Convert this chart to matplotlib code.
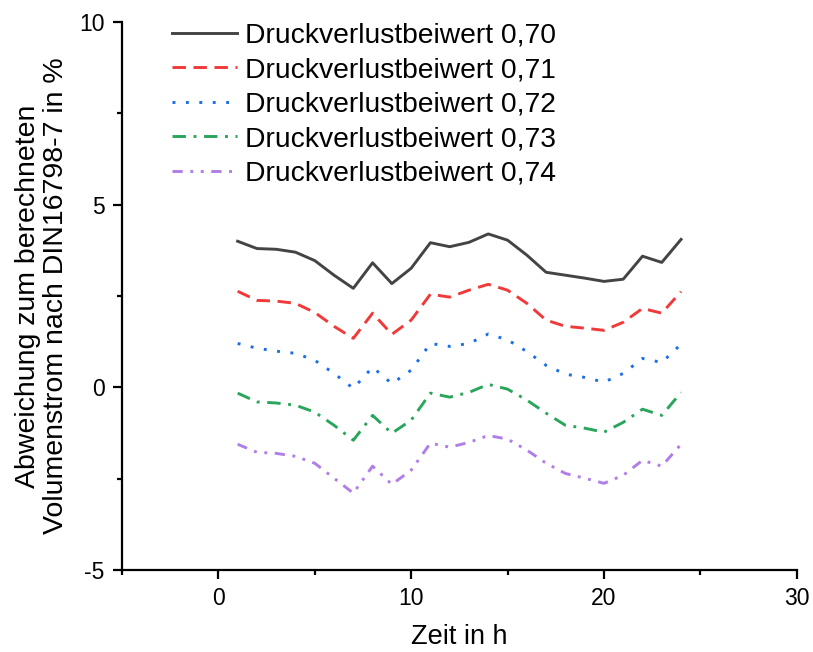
import numpy as np
import matplotlib
matplotlib.use("Agg")
import matplotlib.pyplot as plt
from matplotlib.ticker import MultipleLocator

plt.rcParams['font.family'] = ['Liberation Sans', 'DejaVu Sans']
plt.rcParams['axes.unicode_minus'] = False

hours = list(range(1, 25))

# Abweichung in % je Druckverlustbeiwert
dev_070 = [4.00, 3.80, 3.78, 3.70, 3.47, 3.07, 2.71, 3.41, 2.84, 3.26, 3.96, 3.85,
           3.97, 4.20, 4.03, 3.62, 3.15, 3.07, 2.99, 2.90, 2.96, 3.59, 3.42, 4.05]
dev_071 = [2.63, 2.38, 2.36, 2.30, 2.05, 1.67, 1.34, 2.03, 1.45, 1.84, 2.55, 2.47,
           2.66, 2.82, 2.66, 2.30, 1.84, 1.67, 1.62, 1.56, 1.78, 2.16, 2.03, 2.62]
dev_072 = [1.20, 1.07, 0.99, 0.93, 0.74, 0.38, -0.03, 0.55, 0.10, 0.47, 1.20, 1.12,
           1.20, 1.46, 1.30, 0.98, 0.60, 0.36, 0.27, 0.14, 0.38, 0.79, 0.68, 1.18]
dev_073 = [-0.16, -0.40, -0.43, -0.49, -0.68, -1.04, -1.45, -0.77, -1.26, -0.90, -0.16, -0.27,
           -0.14, 0.08, -0.05, -0.35, -0.71, -1.04, -1.12, -1.23, -0.96, -0.60, -0.77, -0.14]
dev_074 = [-1.56, -1.78, -1.81, -1.89, -2.08, -2.49, -2.90, -2.16, -2.66, -2.27, -1.53, -1.64,
           -1.51, -1.32, -1.42, -1.72, -2.08, -2.36, -2.49, -2.63, -2.41, -2.00, -2.16, -1.56]

labels = ["Druckverlustbeiwert 0,70", "Druckverlustbeiwert 0,71", "Druckverlustbeiwert 0,72",
          "Druckverlustbeiwert 0,73", "Druckverlustbeiwert 0,74"]
series = [dev_070, dev_071, dev_072, dev_073, dev_074]
colors = ["#444444", "#f03a3a", "#1a6fe6", "#2aa55c", "#b07ee8"]
styles = ["-", (0, (4.6, 2.6)), (0, (1, 3.6)), (0, (4.6, 2.6, 1, 2.6)), (0, (3.5, 2.6, 1, 2.6, 1, 2.6))]

fig = plt.figure(figsize=(8.13, 6.52), dpi=100)
ax = fig.add_axes([0.150, 0.126, 0.830, 0.840])

for vals, lab, c, ls in zip(series, labels, colors, styles):
    ax.plot(hours, vals, color=c, linestyle=ls, linewidth=2.1, label=lab)

ax.set_xlim(-5, 30)
ax.set_ylim(-5, 10)
ax.xaxis.set_minor_locator(MultipleLocator(5))
ax.yaxis.set_minor_locator(MultipleLocator(2.5))
ax.set_xticks([0, 10, 20, 30])
ax.set_yticks([-5, 0, 5, 10])

for s in ["top", "right"]:
    ax.spines[s].set_visible(False)
for s in ["left", "bottom"]:
    ax.spines[s].set_linewidth(1.6)

ax.tick_params(which="major", length=6.5, width=1.6, labelsize=16.5, pad=6)
ax.tick_params(which="minor", length=3.6, width=1.6)

ax.set_xlabel("Zeit in h", fontsize=19.5, labelpad=10)
ax.set_ylabel("Abweichung zum berechneten\nVolumenstrom nach DIN16798-7 in %", fontsize=20.5,
              labelpad=7, linespacing=1.1)

ax.legend(loc="upper left", bbox_to_anchor=(0.045, 1.035), frameon=False, fontsize=20.3,
          handlelength=2.3, handletextpad=0.3, labelspacing=0.3, borderaxespad=0.3)

fig.savefig("out.png", dpi=100)
